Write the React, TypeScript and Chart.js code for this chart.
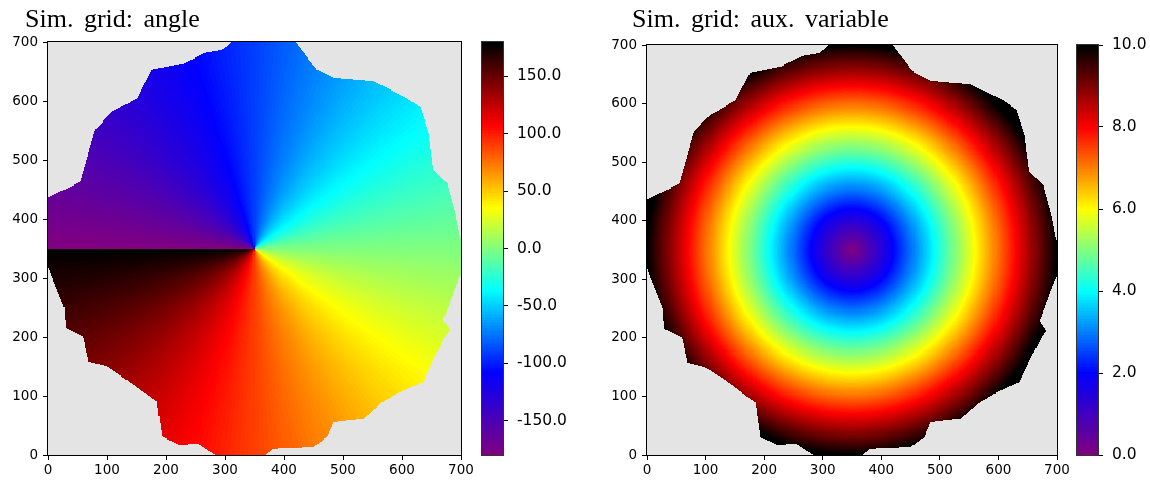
import React, { useEffect, useRef } from "react";
import { Chart, registerables } from "chart.js";

Chart.register(...registerables);

// ---------------- data ----------------
const axisTicks = [0, 100, 200, 300, 400, 500, 600, 700];
const angleTicks = [-150, -100, -50, 0, 50, 100, 150];
const auxTicks = [0, 2, 4, 6, 8, 10];
const angleRange = [-180, 180];
const auxRange = [0, 10];
const gridExtent = [0, 700];
const gridStep = 1.75;
const gridCentre = [350, 350];
const auxGridUnitsPerUnit = 35;
const colourbarLevels = 256;

// outline of the simulated grid (data units)
const boundaryX = [
  -10, 55, 80, 106, 151, 176, 230, 264, 295, 325, 410, 456, 484, 552, 608, 631, 645, 653, 676, 690, 698,
  712, 698, 693, 670, 681, 673, 653, 636, 597, 568, 535, 484, 473, 450, 382, 355, 300, 253, 224, 193, 185,
  134, 100, 69, 60, 30, 27, 0, -10,
];
const boundaryY = [
  432, 463, 551, 580, 605, 653, 664, 681, 686, 712, 712, 653, 639, 633, 605, 590, 545, 483, 461, 410, 370,
  340, 302, 291, 229, 212, 200, 161, 124, 107, 90, 62, 56, 31, 14, 11, -10, -10, 20, 17, 31, 90,
  127, 150, 158, 200, 215, 251, 319, 330,
];

const cmapPositions = [0, 0.2, 0.4, 0.6, 0.8, 1];
const cmapColours = [
  [128, 0, 128],
  [0, 0, 255],
  [0, 255, 255],
  [255, 255, 0],
  [255, 0, 0],
  [0, 0, 0],
];

const titles = ["Sim. grid: angle", "Sim. grid: aux. variable"];

// ---------------- helpers ----------------
function cmapRaw(t: number): string {
  const f = Math.min(1, Math.max(0, t));
  let i = 0;
  while (i < cmapPositions.length - 2 && f > cmapPositions[i + 1]) i++;
  const a = cmapPositions[i];
  const b = cmapPositions[i + 1];
  const u = (f - a) / (b - a);
  const c0 = cmapColours[i];
  const c1 = cmapColours[i + 1];
  const r = Math.round(c0[0] + (c1[0] - c0[0]) * u);
  const g = Math.round(c0[1] + (c1[1] - c0[1]) * u);
  const bl = Math.round(c0[2] + (c1[2] - c0[2]) * u);
  return `rgb(${r},${g},${bl})`;
}
const lut: string[] = [];
for (let k = 0; k < colourbarLevels; k++) lut.push(cmapRaw(k / (colourbarLevels - 1)));
function cmap(t: number): string {
  const f = Math.min(1, Math.max(0, t));
  return lut[Math.min(colourbarLevels - 1, Math.floor(f * colourbarLevels))];
}

function insideBoundary(px: number, py: number): boolean {
  let inside = false;
  const n = boundaryX.length;
  for (let i = 0, j = n - 1; i < n; j = i++) {
    const xi = boundaryX[i], yi = boundaryY[i];
    const xj = boundaryX[j], yj = boundaryY[j];
    if (yi > py !== yj > py && px < ((xj - xi) * (py - yi)) / (yj - yi) + xi) inside = !inside;
  }
  return inside;
}

function buildCells(kind: "angle" | "aux") {
  const cells: { x: number; y: number; v: number }[] = [];
  const n = Math.round((gridExtent[1] - gridExtent[0]) / gridStep);
  for (let i = 0; i < n; i++) {
    const cx = gridExtent[0] + gridStep * (i + 0.5);
    for (let j = 0; j < n; j++) {
      const cy = gridExtent[0] + gridStep * (j + 0.5);
      if (!insideBoundary(cx, cy)) continue;
      const dx = cx - gridCentre[0];
      const dy = cy - gridCentre[1];
      const v =
        kind === "angle"
          ? (-Math.atan2(dy, dx) * 180) / Math.PI
          : Math.sqrt(dx * dx + dy * dy) / auxGridUnitsPerUnit;
      cells.push({ x: cx, y: cy, v });
    }
  }
  return cells;
}

// ---------------- plugins ----------------
const heatmapPlugin = {
  id: "heatmap",
  beforeDatasetsDraw(chart: any, _args: any, opts: any) {
    const { ctx, chartArea } = chart;
    const xs = chart.scales.x;
    const ys = chart.scales.y;
    ctx.save();
    ctx.beginPath();
    ctx.rect(chartArea.left, chartArea.top, chartArea.right - chartArea.left, chartArea.bottom - chartArea.top);
    ctx.clip();
    ctx.fillStyle = opts.background;
    ctx.fillRect(chartArea.left, chartArea.top, chartArea.right - chartArea.left, chartArea.bottom - chartArea.top);
    const data = chart.data.datasets[0].data;
    const h = opts.step / 2;
    for (const c of data) {
      const x0 = Math.round(xs.getPixelForValue(c.x - h));
      const x1 = Math.round(xs.getPixelForValue(c.x + h));
      const y0 = Math.round(ys.getPixelForValue(c.y + h));
      const y1 = Math.round(ys.getPixelForValue(c.y - h));
      if (x1 <= x0 || y1 <= y0) continue;
      ctx.fillStyle = cmap((c.v - opts.min) / (opts.max - opts.min));
      ctx.fillRect(x0, y0, x1 - x0, y1 - y0);
    }
    ctx.restore();
  },
};

const colourbarPlugin = {
  id: "colourbar",
  beforeDatasetsDraw(chart: any, _args: any, opts: any) {
    const { ctx, chartArea } = chart;
    const ys = chart.scales.y;
    const data = chart.data.datasets[0].data;
    ctx.save();
    for (const lv of data) {
      const y0 = ys.getPixelForValue(lv.y1);
      const y1 = ys.getPixelForValue(lv.y0);
      ctx.fillStyle = cmap((lv.y - opts.min) / (opts.max - opts.min));
      ctx.fillRect(chartArea.left, Math.floor(y0), chartArea.right - chartArea.left, Math.ceil(y1) - Math.floor(y0));
    }
    ctx.restore();
  },
};

const framePlugin = {
  id: "frame",
  afterDatasetsDraw(chart: any, _args: any, opts: any) {
    const { ctx, chartArea } = chart;
    ctx.save();
    ctx.strokeStyle = opts.color || "#000";
    ctx.lineWidth = 1;
    const l = Math.round(chartArea.left) - 0.5;
    const t = Math.round(chartArea.top) - 0.5;
    const r = Math.round(chartArea.right) + 0.5;
    const b = Math.round(chartArea.bottom) + 0.5;
    ctx.strokeRect(l, t, r - l, b - t);
    ctx.restore();
  },
};

const titlePlugin = {
  id: "panelTitle",
  afterDraw(chart: any, _args: any, opts: any) {
    if (!opts || !opts.text) return;
    const { ctx } = chart;
    ctx.save();
    ctx.font = '26px "Liberation Serif", "Times New Roman", serif';
    ctx.fillStyle = "#000";
    ctx.textBaseline = "alphabetic";
    ctx.textAlign = "left";
    try {
      (ctx as any).wordSpacing = "4px";
    } catch (e) {}
    ctx.fillText(opts.text, opts.x, opts.y);
    ctx.restore();
  },
};

const tickFont = { family: "DejaVu Sans", size: 13.5 };
const cbFont = { family: "DejaVu Sans", size: 15.5 };

function mainConfig(kind: "angle" | "aux", lay: any) {
  const cells = buildCells(kind);
  const range = kind === "angle" ? angleRange : auxRange;
  return {
    type: "scatter",
    data: { datasets: [{ data: cells, pointRadius: 0, pointHoverRadius: 0 }] },
    options: {
      responsive: false,
      animation: false,
      events: [],
      layout: { padding: { left: lay.padLeft, right: lay.padRight, top: lay.padTop, bottom: 0 } },
      plugins: {
        legend: { display: false },
        tooltip: { enabled: false },
        heatmap: { min: range[0], max: range[1], step: gridStep, background: "#e4e4e4" },
        frame: { color: "#000" },
        panelTitle: { text: lay.title, x: lay.titleX, y: 26.5 },
      },
      scales: {
        x: {
          type: "linear",
          min: gridExtent[0],
          max: gridExtent[1],
          afterBuildTicks: (s: any) => {
            s.ticks = axisTicks.map((v) => ({ value: v }));
          },
          afterFit: (s: any) => {
            s.height = 25;
          },
          ticks: { font: tickFont, color: "#000", padding: 2, maxRotation: 0, autoSkip: false, callback: (v: any) => String(v) },
          grid: { drawOnChartArea: false, drawTicks: true, tickLength: 5, color: "#000" },
          border: { display: false },
        },
        y: {
          type: "linear",
          min: gridExtent[0],
          max: gridExtent[1],
          afterBuildTicks: (s: any) => {
            s.ticks = axisTicks.map((v) => ({ value: v }));
          },
          afterFit: (s: any) => {
            s.width = lay.yWidth;
          },
          ticks: { font: tickFont, color: "#000", padding: 5, autoSkip: false, callback: (v: any) => String(v) },
          grid: { drawOnChartArea: false, drawTicks: true, tickLength: 5, color: "#000" },
          border: { display: false },
        },
      },
    },
    plugins: [heatmapPlugin, framePlugin, titlePlugin],
  };
}

function colourbarConfig(kind: "angle" | "aux", lay: any) {
  const range = kind === "angle" ? angleRange : auxRange;
  const ticks = kind === "angle" ? angleTicks : auxTicks;
  const levels: { x: number; y: number; y0: number; y1: number }[] = [];
  const span = range[1] - range[0];
  for (let k = 0; k < colourbarLevels; k++) {
    const y0 = range[0] + (span * k) / colourbarLevels;
    const y1 = range[0] + (span * (k + 1)) / colourbarLevels;
    levels.push({ x: 0.5, y: (y0 + y1) / 2, y0, y1 });
  }
  return {
    type: "scatter",
    data: { datasets: [{ data: levels, pointRadius: 0, pointHoverRadius: 0 }] },
    options: {
      responsive: false,
      animation: false,
      events: [],
      layout: { padding: { left: lay.padLeft, right: 0, top: lay.padTop, bottom: 25 } },
      plugins: {
        legend: { display: false },
        tooltip: { enabled: false },
        colourbar: { min: range[0], max: range[1] },
        frame: { color: "#333" },
      },
      scales: {
        x: { type: "linear", min: 0, max: 1, display: false },
        y: {
          type: "linear",
          position: "right",
          min: range[0],
          max: range[1],
          afterBuildTicks: (s: any) => {
            s.ticks = ticks.map((v) => ({ value: v }));
          },
          afterFit: (s: any) => {
            s.width = lay.yWidth;
          },
          ticks: { font: cbFont, color: "#000", padding: 9, autoSkip: false, callback: (v: any) => Number(v).toFixed(1) },
          grid: { drawOnChartArea: false, drawTicks: true, tickLength: 5, color: "#000" },
          border: { display: false },
        },
      },
    },
    plugins: [colourbarPlugin, framePlugin],
  };
}

function ChartCanvas(props: { make: () => any; left: number; top: number; width: number; height: number }) {
  const ref = useRef<HTMLCanvasElement | null>(null);
  useEffect(() => {
    if (!ref.current) return;
    const chart = new Chart(ref.current, props.make());
    return () => chart.destroy();
  }, []);
  return (
    <canvas
      ref={ref}
      width={props.width}
      height={props.height}
      style={{ position: "absolute", left: props.left, top: props.top, width: props.width, height: props.height }}
    />
  );
}

export default function App() {
  return (
    <div style={{ position: "absolute", left: 0, top: 0, width: 1150, height: 480, background: "#fff", overflow: "hidden" }}>
      <ChartCanvas
        left={0}
        top={0}
        width={476}
        height={480}
        make={() => mainConfig("angle", { padLeft: 8, padRight: 15, padTop: 42, yWidth: 40, title: titles[0], titleX: 25 })}
      />
      <ChartCanvas
        left={470}
        top={0}
        width={110}
        height={480}
        make={() => colourbarConfig("angle", { padLeft: 12, padTop: 42, yWidth: 77 })}
      />
      <ChartCanvas
        left={590}
        top={0}
        width={483}
        height={480}
        make={() => mainConfig("aux", { padLeft: 0, padRight: 16, padTop: 45, yWidth: 57, title: titles[1], titleX: 42 })}
      />
      <ChartCanvas
        left={1065}
        top={0}
        width={85}
        height={480}
        make={() => colourbarConfig("aux", { padLeft: 12, padTop: 45, yWidth: 52 })}
      />
    </div>
  );
}
